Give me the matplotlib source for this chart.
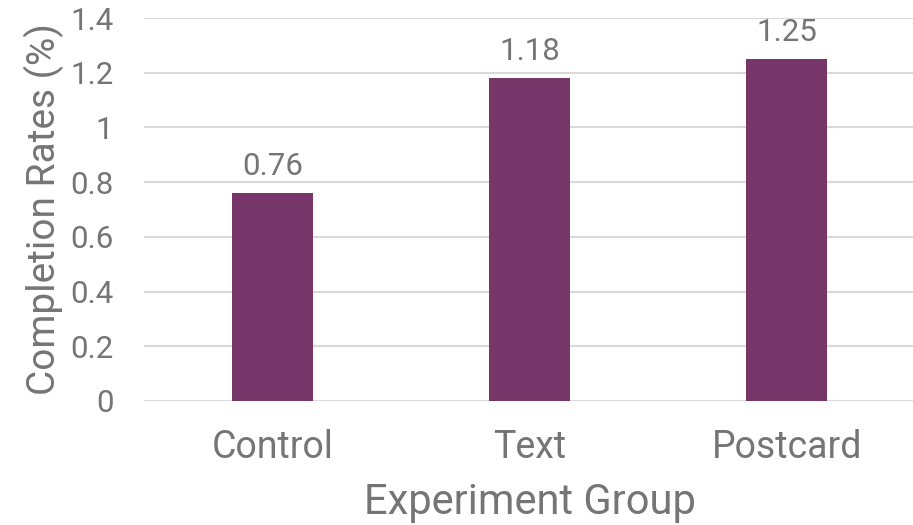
import matplotlib
matplotlib.use("Agg")
import matplotlib.pyplot as plt

plt.rcParams['font.family'] = ['Roboto', 'DejaVu Sans']

# experiment groups and their completion rates (%)
groups = ["Control", "Text", "Postcard"]
rates = [0.76, 1.18, 1.25]
yticks = [0, 0.2, 0.4, 0.6, 0.8, 1, 1.2, 1.4]
ytick_labels = ["0", "0.2", "0.4", "0.6", "0.8", "1", "1.2", "1.4"]

text_col = '#757575'
bar_col = '#76366A'

fig = plt.figure(figsize=(9.13, 5.25), dpi=100)
ax = fig.add_axes([0.1577, 0.2362, 0.845, 0.7295])

x = range(len(groups))
ax.bar(x, rates, width=0.315, color=bar_col, zorder=3)

for xi, v in zip(x, rates):
    ax.text(xi, v + 0.045, f"{v:.2f}", ha='center', va='bottom',
            fontsize=22.5, color=text_col)

ax.set_xlim(-0.5, len(groups) - 0.5)
ax.set_ylim(0, 1.4)
ax.set_yticks(yticks)
ax.set_yticklabels(ytick_labels)
ax.set_xticks(list(x))
ax.set_xticklabels(groups)

ax.tick_params(axis='y', length=0, pad=22, labelsize=22.5, labelcolor=text_col)
ax.tick_params(axis='x', length=0, pad=20, labelsize=27, labelcolor=text_col)

ax.grid(axis='y', color='#d9d9d9', linewidth=1.5, zorder=0)
for s in ax.spines.values():
    s.set_visible(False)

ax.set_xlabel("Experiment Group", fontsize=30, color=text_col, labelpad=12)
ax.set_ylabel("Completion Rates (%)", fontsize=28, color=text_col, labelpad=4)

plt.savefig("out.png", dpi=100)
